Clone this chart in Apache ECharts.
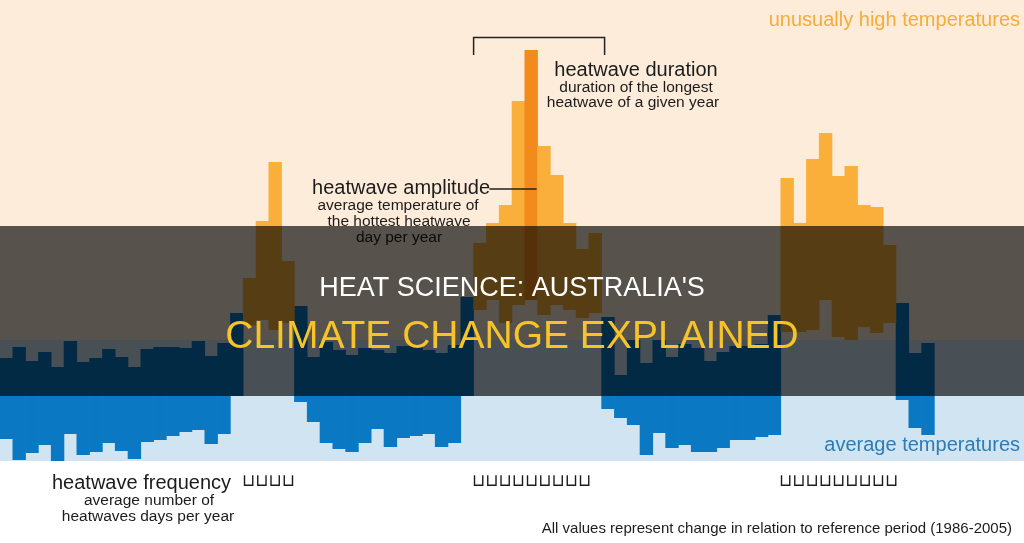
<!DOCTYPE html>
<html><head><meta charset="utf-8">
<script src="https://cdn.jsdelivr.net/npm/echarts@6/dist/echarts.min.js"></script>
<style>html,body{margin:0;padding:0;background:#fff;}#c{width:1024px;height:543px;}</style>
</head><body><div id="c"></div>
<script>
// ---------------- data (units: change index, 0 = reference baseline) ----------------
const categories = Array.from({length: 80}, (_, i) => 'Y' + (i + 1));

// blue = heatwave frequency bars (span bottom..top)
const blueTop = [
  38, 49, 35, 44, 29, 55, 34, 38, 47, 39, 29, 47, 49, 49, 48, 55, 40, 53, 83,
  null, null, null, null,
  90, 39, 54, 46, 41, 48, 46, 43, 50, 50, 46, 43, 51, 99,
  null, null, null, null, null, null, null, null, null, null,
  79, 21, 56, 33, 56, 39, 52, 48, 35, 44, 50, 50, 52, 81,
  null, null, null, null, null, null, null, null, null,
  93, 43, 53,
  null, null, null, null, null, null, null
];
const blueBottom = [
  -43, -64, -57, -49, -65, -38, -59, -56, -47, -55, -63, -46, -44, -40, -36, -34, -48, -38, 0,
  null, null, null, null,
  -6, -26, -47, -53, -56, -47, -33, -51, -42, -40, -38, -51, -47, 0,
  null, null, null, null, null, null, null, null, null, null,
  -13, -22, -29, -59, -37, -52, -49, -56, -56, -52, -44, -44, -41, -39,
  null, null, null, null, null, null, null, null, null,
  -4, -32, -39,
  null, null, null, null, null, null, null
];
// orange = heatwave amplitude / duration bars (span bottom..top)
const orangeTop = [
  null, null, null, null, null, null, null, null, null, null, null, null, null, null, null, null, null, null, null,
  118, 175, 234, 135,
  null, null, null, null, null, null, null, null, null, null, null, null, null, null,
  153, 173, 191, 295, 346, 250, 221, 173, 147, 163,
  null, null, null, null, null, null, null, null, null, null, null, null, null, null,
  218, 173, 237, 263, 220, 230, 191, 189, 151,
  null, null, null,
  null, null, null, null, null, null, null
];
const orangeBottom = [
  null, null, null, null, null, null, null, null, null, null, null, null, null, null, null, null, null, null, null,
  71, 76, 66, 73,
  null, null, null, null, null, null, null, null, null, null, null, null, null, null,
  86, 96, 73, 91, 96, 81, 91, 86, 78, 83,
  null, null, null, null, null, null, null, null, null, null, null, null, null, null,
  64, 64, 66, 96, 59, 56, 69, 63, 73,
  null, null, null,
  null, null, null, null, null, null, null
];
const highlightIndex = 41;          // the "longest heatwave" bar
const bandHigh = [56, 396];         // unusually high temperatures zone
const bandAverage = [-65, 56];      // average temperatures zone
const shadeBand = [0, 170];         // dark title band
const bracketSpan = [37, 46];       // heatwave duration bracket (categories)
const bracketLevels = [341, 358.5];
const pointerSpan = [38, 41];       // heatwave amplitude pointer
const pointerLevel = 207;

// ---------------- styles ----------------
const FONT = "'Liberation Sans', Arial, sans-serif";
const C_PEACH = '#fdecd9', C_LBLUE = '#d0e4f2', C_ORANGE = '#f9af3a', C_ORANGE_HI = '#f28a1c', C_BLUE = '#0a78c2';

const chart = echarts.init(document.getElementById('c'), null, {renderer: 'canvas', width: 1024, height: 543});

function bandSeries(name, band, color, z) {
  return {
    name, type: 'custom', coordinateSystem: 'cartesian2d', z, silent: true,
    data: [[0, band[0], band[1]]], encode: {x: 0, y: [1, 2]},
    renderItem(params, api) {
      const cs = params.coordSys;
      const yT = api.coord([0, api.value(2)])[1];
      const yB = api.coord([0, api.value(1)])[1];
      return {type: 'rect', shape: {x: cs.x, y: yT, width: cs.width, height: yB - yT}, style: {fill: color}};
    }
  };
}
function rangeSeries(name, tops, bottoms, colorFor, z) {
  const data = [];
  tops.forEach((t, i) => { if (t != null) data.push([i, bottoms[i], t]); });
  return {
    name, type: 'custom', coordinateSystem: 'cartesian2d', z, silent: true,
    data, encode: {x: 0, y: [1, 2]},
    renderItem(params, api) {
      const i = api.value(0);
      const pT = api.coord([i, api.value(2)]);
      const pB = api.coord([i, api.value(1)]);
      const w = api.size([1, 0])[0];
      return {type: 'rect', shape: {x: pT[0] - w / 2 - 0.3, y: pT[1], width: w + 0.6, height: pB[1] - pT[1]},
              style: {fill: colorFor(i)}};
    }
  };
}
const annotationSeries = {
  name: 'annotations', type: 'custom', coordinateSystem: 'cartesian2d', z: 4, silent: true,
  data: [[0, 0]], encode: {x: 0, y: 1},
  renderItem(params, api) {
    const w = api.size([1, 0])[0];
    const xl = api.coord([bracketSpan[0], 0])[0] - w / 2;
    const xr = api.coord([bracketSpan[1], 0])[0] + w / 2 + 3;
    const yb = api.coord([0, bracketLevels[0]])[1];
    const yt = api.coord([0, bracketLevels[1]])[1];
    const px0 = api.coord([pointerSpan[0], 0])[0] - w / 2 + 3;
    const px1 = api.coord([pointerSpan[1], 0])[0] + w / 2 - 1;
    const py = api.coord([0, pointerLevel])[1];
    return {type: 'group', children: [
      {type: 'polyline', shape: {points: [[xl, yb], [xl, yt], [xr, yt], [xr, yb]]}, style: {stroke: '#222', lineWidth: 1.5, fill: null}},
      {type: 'line', shape: {x1: px0, y1: py, x2: px1, y2: py}, style: {stroke: '#222', lineWidth: 1.5}}
    ]};
  }
};

function txt(text, x, y, size, fill, align, z, family) {
  return {type: 'text', x, y, z, silent: true,
    style: {text, fill, font: size + 'px ' + (family || FONT), textAlign: align, textVerticalAlign: 'middle', align, verticalAlign: 'middle'}};
}
const TOFU = "'DejaVu Sans', sans-serif";
const texts = [
  txt('unusually high temperatures', 1020, 20, 20, '#f5ac3a', 'right', 4),
  txt('heatwave duration', 636, 70, 20, '#1c1c1c', 'center', 4),
  txt('duration of the longest', 636, 87.5, 15.5, '#1c1c1c', 'center', 4),
  txt('heatwave of a given year', 633, 102.5, 15.5, '#1c1c1c', 'center', 4),
  txt('heatwave amplitude', 490, 188, 20, '#1c1c1c', 'right', 4),
  txt('average temperature of', 398, 206, 15.5, '#1c1c1c', 'center', 4),
  txt('the hottest heatwave', 399, 222, 15.5, '#1c1c1c', 'center', 4),
  txt('day per year', 399, 238, 15.5, '#1c1c1c', 'center', 4),
  txt('average temperatures', 1020, 445, 20, '#2a7db8', 'right', 4),
  txt('heatwave frequency', 52, 483, 20, '#1c1c1c', 'left', 4),
  txt('\u2294\u2294\u2294\u2294', 242, 482, 17, '#1c1c1c', 'left', 4, TOFU),
  txt('average number of', 149, 501, 15.5, '#1c1c1c', 'center', 4),
  txt('heatwaves days per year', 148, 516.5, 15.5, '#1c1c1c', 'center', 4),
  txt('\u2294\u2294\u2294\u2294\u2294\u2294\u2294\u2294\u2294', 472, 482, 17, '#1c1c1c', 'left', 4, TOFU),
  txt('\u2294\u2294\u2294\u2294\u2294\u2294\u2294\u2294\u2294', 779, 482, 17, '#1c1c1c', 'left', 4, TOFU),
  txt('All values represent change in relation to reference period (1986-2005)', 1012, 529, 15, '#1c1c1c', 'right', 4),
  txt("HEAT SCIENCE: AUSTRALIA'S", 512, 289, 27, '#ffffff', 'center', 10),
  txt('CLIMATE CHANGE EXPLAINED', 512, 337, 39, '#f6c42a', 'center', 10)
];

chart.setOption({
  animation: false,
  backgroundColor: '#ffffff',
  grid: {left: 0, right: 0, top: 0, bottom: 0},
  xAxis: {type: 'category', data: categories, show: false, boundaryGap: true},
  yAxis: {type: 'value', min: -147, max: 396, show: false, splitLine: {show: false}},
  graphic: {elements: texts},
  series: [
    bandSeries('high zone', bandHigh, C_PEACH, 0),
    bandSeries('average zone', bandAverage, C_LBLUE, 0),
    rangeSeries('heatwave frequency', blueTop, blueBottom, () => C_BLUE, 2),
    rangeSeries('heatwave amplitude', orangeTop, orangeBottom, i => i === highlightIndex ? C_ORANGE_HI : C_ORANGE, 2),
    annotationSeries,
    bandSeries('title band', shadeBand, 'rgba(0,0,0,0.65)', 5)
  ]
});
</script></body></html>
